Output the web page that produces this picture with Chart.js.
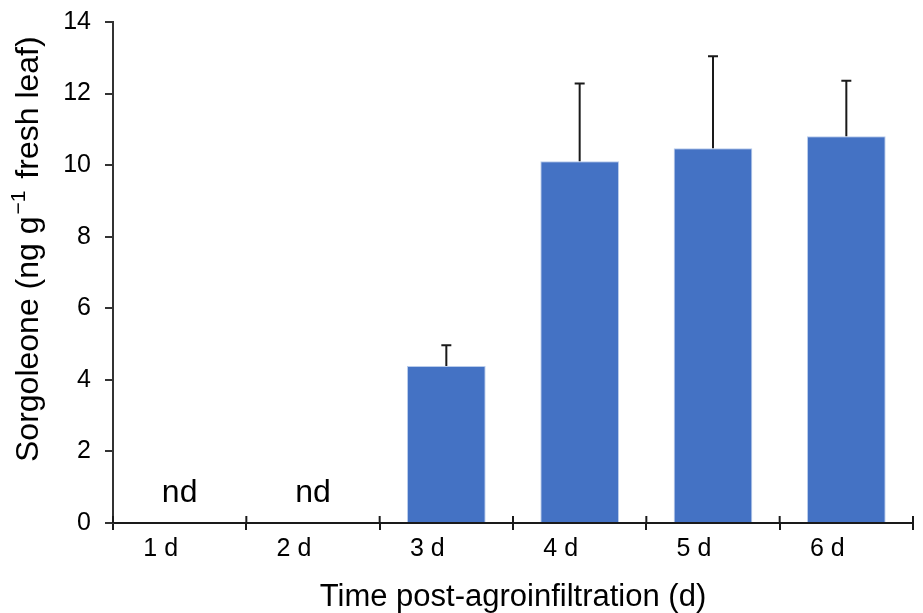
<!DOCTYPE html>
<html>
<head>
<meta charset="utf-8">
<script src="https://cdn.jsdelivr.net/npm/chart.js@4/dist/chart.umd.min.js"></script>
<style>
html,body{margin:0;padding:0;background:#fff;}
#wrap{width:923px;height:613px;}
</style>
</head>
<body>
<div id="wrap"><canvas id="c" width="923" height="613"></canvas></div>
<script>
const categories = ['1 d','2 d','3 d','4 d','5 d','6 d'];
const means = [0, 0, 4.39, 10.11, 10.47, 10.81];
const errorsUp = [0, 0, 0.58, 2.17, 2.57, 1.55];
const notDetected = [true, true, false, false, false, false];
const yTicks = [0,2,4,6,8,10,12,14];
const yTitleMain = 'Sorgoleone (ng g';
const yTitleSup = '\u22121';
const yTitleEnd = ' fresh leaf)';

const FONT = "'Liberation Sans', Arial, sans-serif";

const extrasPlugin = {
  id: 'extras',
  afterDatasetsDraw(chart) {
    const ctx = chart.ctx;
    const x = chart.scales.x, y = chart.scales.y;
    const meta = chart.getDatasetMeta(0);
    ctx.save();
    // error bars
    ctx.strokeStyle = '#1a1a1a';
    ctx.lineWidth = 2;
    means.forEach((m, i) => {
      if (!errorsUp[i]) return;
      const bx = meta.data[i].x;
      const yTop = y.getPixelForValue(m + errorsUp[i]);
      const yBase = y.getPixelForValue(m);
      ctx.beginPath();
      ctx.moveTo(bx, yBase);
      ctx.lineTo(bx, yTop);
      ctx.moveTo(bx - 5, yTop);
      ctx.lineTo(bx + 5, yTop);
      ctx.stroke();
    });
    // nd labels
    ctx.fillStyle = '#000';
    ctx.font = '32px ' + FONT;
    ctx.textAlign = 'center';
    ctx.textBaseline = 'alphabetic';
    notDetected.forEach((nd, i) => {
      if (!nd) return;
      ctx.fillText('nd', x.getPixelForValue(i), y.getPixelForValue(0) - 21);
    });
    // upward half of x-axis category ticks
    ctx.strokeStyle = '#1a1a1a';
    ctx.lineWidth = 2;
    const y0 = y.getPixelForValue(0);
    const step = x.getPixelForValue(1) - x.getPixelForValue(0);
    for (let i = 0; i <= categories.length; i++) {
      const px = x.getPixelForValue(0) - step / 2 + i * step;
      ctx.beginPath();
      ctx.moveTo(px, y0);
      ctx.lineTo(px, y0 - 7);
      ctx.stroke();
    }
    // y-axis title with superscript
    const big = '32px ' + FONT, small = '21px ' + FONT;
    ctx.font = big;
    const w1 = ctx.measureText(yTitleMain).width;
    ctx.font = small;
    const w2 = ctx.measureText(yTitleSup).width;
    const startY = 462, cx = 38;
    ctx.translate(cx, startY);
    ctx.rotate(-Math.PI / 2);
    ctx.textAlign = 'left';
    let sx = 0;
    ctx.font = big; ctx.fillText(yTitleMain, sx, 0); sx += w1 + 2;
    ctx.font = small; ctx.fillText(yTitleSup, sx, -13); sx += w2 + 3;
    ctx.font = big; ctx.fillText(yTitleEnd, sx, 0);
    ctx.restore();
  }
};

new Chart(document.getElementById('c'), {
  type: 'bar',
  data: {
    labels: categories,
    datasets: [{
      data: means,
      backgroundColor: '#4472C4',
      borderColor: '#B9CCEB',
      borderWidth: {left:1, right:1, top:1, bottom:0},
      categoryPercentage: 0.59,
      barPercentage: 1.0
    }]
  },
  options: {
    responsive: false,
    animation: false,
    layout: { padding: { left: 0, top: 22, right: 10, bottom: 0 } },
    plugins: { legend: { display: false }, tooltip: { enabled: false } },
    scales: {
      x: {
        grid: { display: true, offset: true, drawOnChartArea: false, drawTicks: true, tickLength: 7, color: '#1a1a1a', lineWidth: 2 },
        border: { display: true, color: '#1a1a1a', width: 2 },
        ticks: { color: '#000', font: { size: 25, family: FONT }, padding: 4, labelOffset: -19 },
        title: { display: true, text: 'Time post-agroinfiltration (d)', color: '#000', font: { size: 31, family: FONT }, padding: { top: 4, bottom: -3 } },
        afterFit(s) { s.height = 90; s.paddingLeft = 0; s.paddingRight = 0; }
      },
      y: {
        min: 0, max: 14,
        afterBuildTicks(s) { s.ticks = yTicks.map(v => ({ value: v })); },
        grid: { display: true, drawOnChartArea: false, drawTicks: true, tickLength: 8, color: '#333', lineWidth: 2 },
        border: { display: true, color: '#333', width: 2 },
        ticks: { color: '#000', font: { size: 25, family: FONT }, padding: 14 },
        afterFit(s) { s.width = 113; s.paddingTop = 0; s.paddingBottom = 0; }
      }
    }
  },
  plugins: [extrasPlugin]
});
</script>
</body>
</html>
